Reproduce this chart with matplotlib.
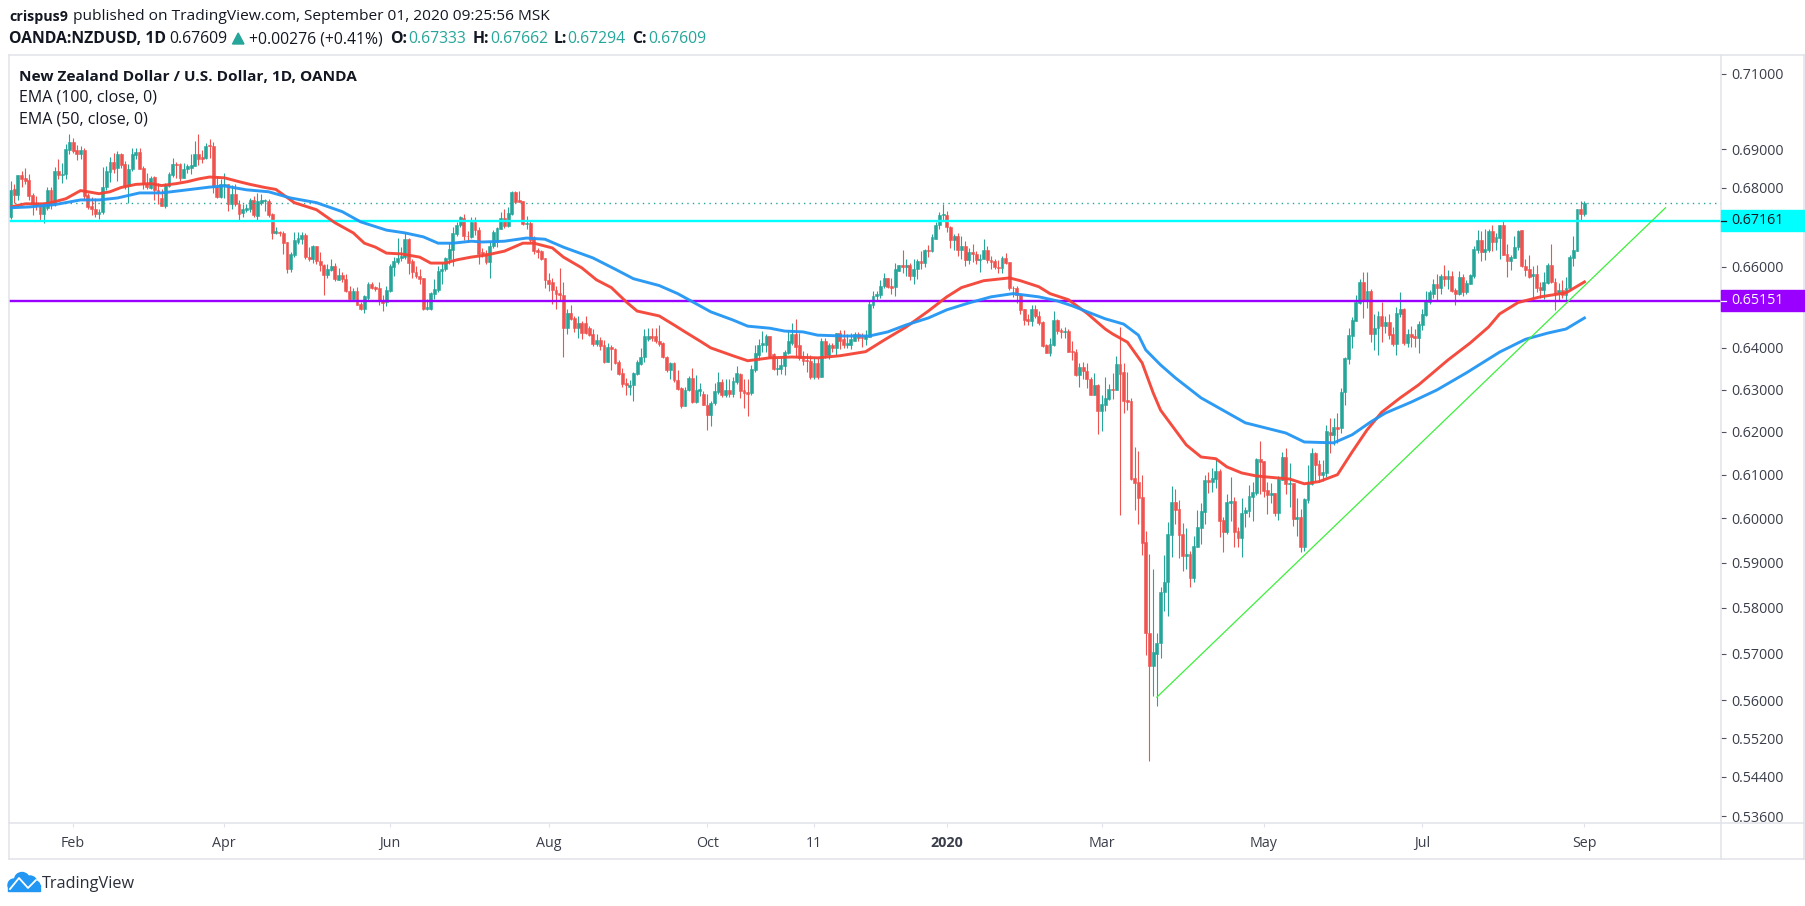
import matplotlib
matplotlib.use("Agg")
import numpy as np
import matplotlib.pyplot as plt
from matplotlib.lines import Line2D
from matplotlib.patches import Rectangle, Circle, Polygon
from matplotlib.ticker import NullLocator, NullFormatter

# OHLC values in 1/10000 of a US dollar, one entry per daily bar
opens = [
6725,6796,6781,6832,6825,6820,6781,6762,6755,6732, 6749,6794,6762,6843,6833,6835,6897,6919,6897,6887,
6897,6781,6753,6747,6734,6738,6801,6842,6866,6852, 6887,6861,6805,6849,6885,6894,6852,6811,6799,6828,
6795,6773,6754,6806,6833,6863,6861,6826,6848,6852, 6857,6887,6881,6878,6911,6909,6801,6776,6807,6809,
6758,6783,6758,6736,6743,6746,6768,6729,6762,6767, 6767,6732,6685,6688,6685,6662,6594,6630,6662,6670,
6680,6625,6620,6651,6614,6605,6579,6592,6601,6568, 6579,6569,6540,6519,6539,6508,6495,6523,6557,6549,
6547,6515,6512,6540,6600,6611,6621,6624,6670,6615, 6586,6578,6571,6495,6495,6531,6542,6588,6594,6620,
6643,6683,6704,6722,6678,6675,6712,6693,6636,6635, 6611,6652,6662,6696,6723,6702,6733,6789,6768,6766,
6707,6711,6671,6641,6639,6621,6568,6561,6543,6535, 6530,6449,6485,6472,6449,6460,6460,6449,6433,6410,
6420,6408,6366,6403,6398,6367,6340,6316,6305,6310, 6338,6362,6377,6421,6430,6428,6418,6413,6379,6346,
6363,6323,6303,6261,6298,6328,6271,6297,6289,6264, 6239,6267,6294,6319,6286,6299,6289,6319,6336,6299,
6294,6291,6346,6383,6406,6408,6428,6386,6349,6349, 6356,6388,6411,6433,6406,6376,6371,6369,6329,6364,
6331,6416,6383,6408,6401,6436,6421,6406,6408,6418, 6433,6426,6421,6426,6506,6526,6530,6553,6573,6553,
6550,6590,6603,6600,6603,6578,6593,6613,6608,6643, 6639,6670,6705,6730,6731,6700,6667,6677,6643,6653,
6616,6638,6633,6616,6618,6641,6617,6613,6600,6597, 6623,6611,6548,6548,6530,6494,6470,6465,6494,6479,
6464,6407,6387,6407,6469,6443,6439,6440,6392,6389, 6334,6354,6345,6326,6288,6311,6250,6263,6277,6302,
6300,6360,6341,6275,6272,6093,6084,6049,5947,5746, 5674,5700,5724,5834,5856,5963,6037,6022,5965,5916,
5920,5865,5936,5979,6015,6088,6084,6091,6109,5997, 5970,6035,6040,5972,5956,6011,6017,6049,6058,6137,
6132,6065,6054,6058,6013,6088,6142,6079,6081,5999, 6004,5936,6042,6079,6151,6125,6100,6105,6200,6193,
6212,6209,6295,6374,6429,6465,6510,6561,6516,6539, 6433,6448,6479,6453,6462,6433,6409,6482,6495,6411,
6433,6429,6423,6457,6480,6512,6533,6556,6547,6577, 6570,6577,6542,6532,6574,6536,6556,6577,6643,6666,
6636,6643,6689,6661,6672,6704,6632,6613,6623,6649, 6692,6602,6595,6577,6581,6549,6542,6559,6605,6561,
6534,6542,6529,6546,6623,6640,6747,6733]
highs = [
6818,6809,6832,6844,6852,6835,6788,6779,6762,6758, 6802,6801,6854,6874,6865,6915,6940,6930,6911,6908,
6904,6788,6777,6775,6747,6855,6857,6880,6891,6895, 6891,6869,6861,6904,6904,6904,6857,6839,6831,6831,
6813,6796,6813,6842,6878,6867,6865,6865,6863,6887, 6921,6941,6899,6917,6928,6919,6831,6822,6839,6811,
6807,6809,6770,6758,6758,6775,6779,6786,6784,6772, 6771,6736,6701,6691,6691,6663,6636,6688,6687,6688,
6685,6649,6655,6652,6636,6607,6607,6620,6610,6596, 6586,6582,6551,6548,6550,6512,6529,6561,6563,6552,
6561,6529,6552,6607,6624,6672,6649,6687,6672,6618, 6601,6594,6573,6519,6536,6569,6601,6610,6624,6662,
6699,6712,6727,6733,6691,6725,6725,6700,6646,6642, 6664,6692,6700,6739,6746,6750,6792,6793,6792,6766,
6728,6714,6677,6647,6642,6621,6583,6571,6552,6596, 6562,6495,6505,6479,6479,6466,6477,6454,6445,6433,
6427,6419,6412,6408,6399,6371,6351,6327,6322,6343, 6371,6399,6445,6449,6449,6449,6455,6414,6381,6366,
6365,6346,6306,6307,6333,6351,6335,6315,6296,6289, 6272,6316,6341,6326,6326,6326,6329,6356,6339,6324,
6324,6359,6406,6421,6441,6433,6428,6388,6376,6378, 6396,6441,6461,6471,6436,6393,6388,6383,6376,6376,
6423,6423,6413,6413,6436,6443,6443,6433,6436,6438, 6438,6436,6443,6518,6540,6540,6568,6583,6573,6573,
6610,6605,6643,6618,6608,6620,6618,6640,6645,6655, 6681,6713,6739,6759,6741,6702,6683,6685,6677,6664,
6648,6656,6639,6631,6669,6652,6627,6618,6617,6627, 6635,6611,6553,6553,6533,6495,6482,6506,6506,6490,
6465,6409,6425,6491,6471,6449,6452,6445,6417,6397, 6364,6365,6364,6329,6339,6313,6287,6329,6313,6339,
6380,6451,6364,6341,6280,6165,6156,6100,5972,5920, 5887,5744,5845,5918,5992,6074,6068,6042,5990,5979,
5927,5960,6019,6035,6100,6107,6116,6137,6112,6004, 6056,6095,6049,5981,6047,6026,6077,6084,6139,6179,
6132,6084,6081,6058,6098,6153,6163,6128,6081,6047, 6022,6047,6123,6163,6153,6135,6135,6217,6233,6233,
6244,6304,6378,6448,6475,6529,6570,6586,6586,6544, 6482,6490,6512,6478,6483,6452,6499,6536,6498,6447,
6453,6447,6465,6494,6539,6542,6570,6582,6581,6605, 6592,6590,6546,6588,6581,6567,6581,6651,6693,6691,
6696,6696,6704,6685,6706,6719,6656,6630,6677,6693, 6693,6620,6630,6602,6603,6563,6586,6609,6656,6571,
6559,6567,6574,6629,6678,6747,6767,6766]
lows = [
6721,6762,6770,6801,6809,6768,6730,6742,6715,6709, 6744,6747,6753,6822,6813,6822,6887,6891,6871,6874,
6770,6745,6730,6725,6721,6732,6794,6816,6839,6818, 6852,6796,6762,6844,6874,6848,6798,6796,6796,6770,
6758,6753,6749,6801,6828,6826,6818,6825,6839,6835, 6857,6859,6865,6876,6878,6788,6775,6773,6775,6740,
6745,6753,6719,6725,6739,6737,6725,6716,6756,6741, 6725,6670,6683,6678,6632,6584,6586,6624,6657,6657,
6620,6613,6610,6607,6590,6529,6571,6588,6565,6566, 6562,6536,6515,6515,6504,6492,6484,6515,6544,6540,
6506,6489,6502,6536,6576,6607,6615,6618,6582,6571, 6573,6557,6492,6492,6492,6519,6536,6557,6588,6607,
6601,6678,6699,6666,6662,6672,6679,6606,6625,6606, 6573,6647,6650,6694,6698,6700,6731,6761,6763,6704,
6694,6662,6632,6621,6616,6548,6539,6508,6494,6515, 6379,6435,6468,6439,6423,6422,6434,6429,6405,6405,
6395,6363,6366,6346,6362,6335,6307,6286,6288,6272, 6335,6359,6366,6417,6417,6412,6404,6375,6341,6325,
6319,6299,6257,6260,6296,6268,6269,6284,6262,6204, 6214,6264,6289,6281,6281,6281,6281,6314,6279,6257,
6237,6286,6341,6371,6391,6391,6376,6346,6334,6336, 6334,6386,6408,6378,6371,6359,6341,6324,6326,6326,
6329,6376,6373,6391,6383,6398,6401,6401,6398,6416, 6416,6403,6408,6426,6498,6516,6523,6548,6548,6533,
6526,6588,6585,6578,6568,6558,6570,6593,6600,6625, 6637,6669,6696,6719,6687,6646,6643,6627,6620,6602,
6606,6612,6606,6587,6618,6610,6593,6595,6583,6585, 6606,6543,6525,6510,6482,6455,6455,6454,6473,6455,
6402,6387,6381,6405,6434,6425,6425,6389,6372,6332, 6307,6325,6304,6287,6286,6194,6201,6250,6275,6277,
6298,6008,6245,6252,6088,6019,5988,5918,5698,5473, 5610,5588,5690,5792,5781,5913,5986,5911,5882,5885,
5847,5856,5936,5943,5988,6058,6060,6070,5958,5925, 5965,5995,5936,5936,5913,5981,6004,5995,6054,6056,
6049,6010,6035,6006,5997,6088,6056,6026,5983,5961, 5925,5927,6035,6077,6084,6084,6086,6095,6151,6170,
6174,6198,6264,6362,6399,6465,6508,6472,6498,6414, 6396,6384,6414,6437,6422,6405,6384,6475,6407,6402,
6402,6402,6387,6443,6477,6507,6521,6518,6533,6552, 6544,6538,6504,6529,6527,6533,6556,6571,6634,6615,
6616,6637,6639,6643,6620,6630,6575,6592,6622,6643, 6598,6578,6571,6522,6538,6521,6519,6556,6559,6492,
6516,6521,6516,6543,6601,6639,6719,6729]
closes = [
6794,6782,6832,6823,6818,6779,6758,6756,6732,6755, 6794,6759,6843,6832,6837,6900,6919,6895,6887,6897,
6779,6751,6745,6734,6739,6801,6843,6866,6850,6887, 6859,6804,6850,6887,6893,6850,6809,6801,6826,6795,
6789,6754,6807,6835,6863,6859,6826,6850,6857,6859, 6887,6876,6875,6910,6908,6801,6777,6809,6809,6758,
6783,6758,6734,6746,6748,6768,6730,6765,6768,6768, 6730,6685,6690,6684,6660,6594,6632,6666,6672,6680,
6624,6620,6651,6613,6603,6579,6594,6601,6569,6579, 6569,6540,6519,6539,6506,6495,6526,6557,6548,6544,
6515,6510,6541,6601,6614,6621,6626,6670,6610,6586, 6576,6569,6495,6499,6534,6544,6590,6594,6621,6645,
6685,6706,6725,6678,6676,6712,6692,6633,6632,6611, 6652,6687,6697,6723,6702,6736,6789,6764,6764,6707,
6711,6667,6639,6637,6619,6566,6558,6541,6533,6529, 6449,6485,6470,6449,6460,6437,6437,6431,6410,6420,
6405,6366,6403,6397,6363,6338,6314,6311,6311,6340, 6365,6377,6430,6430,6424,6417,6410,6379,6346,6363,
6322,6302,6261,6298,6328,6271,6299,6301,6264,6239, 6269,6296,6319,6286,6299,6289,6321,6339,6296,6291,
6289,6349,6388,6408,6411,6428,6378,6349,6351,6359, 6391,6418,6433,6403,6376,6369,6369,6329,6364,6331,
6416,6383,6408,6401,6436,6418,6406,6411,6421,6433, 6423,6423,6428,6508,6528,6533,6553,6573,6550,6548,
6593,6603,6598,6603,6578,6595,6613,6610,6643,6640, 6674,6706,6731,6733,6700,6667,6677,6643,6653,6616,
6638,6632,6617,6620,6641,6617,6612,6598,6597,6623, 6608,6546,6546,6529,6492,6468,6465,6494,6478,6461,
6405,6387,6409,6469,6441,6439,6440,6390,6389,6334, 6354,6345,6324,6288,6311,6250,6266,6280,6302,6300,
6360,6338,6273,6271,6091,6081,6047,5945,5746,5674, 5703,5724,5834,5856,5965,6037,6019,5963,5916,5920,
5865,5938,5981,6017,6088,6084,6093,6109,5995,5970, 6037,6040,5970,5956,6013,6019,6051,6060,6137,6130,
6063,6054,6058,6013,6091,6142,6079,6081,5999,6004, 5936,6044,6081,6151,6123,6100,6107,6202,6193,6212,
6207,6294,6376,6431,6468,6512,6561,6516,6539,6435, 6449,6479,6453,6462,6431,6409,6484,6495,6411,6433,
6426,6423,6459,6482,6514,6536,6556,6547,6577,6570, 6577,6539,6532,6574,6536,6559,6580,6645,6666,6636,
6645,6689,6661,6674,6704,6630,6613,6625,6650,6691, 6601,6592,6575,6581,6548,6542,6561,6605,6561,6533,
6541,6529,6548,6625,6643,6747,6734,6761]

# EMA curves: bar number, value in 1/10000 USD
ema50_bars = [1,5,10,12,16,20,22,25,28,31,35,39,42,46,49,52,55,59,63,66,70,73,78,84,89,94,97,100,103,107,112,115,119,122,126,
130,135,140,143,148,151,156,160,164,168,171,177,181,184,188,191,197,201,207,213,220,226,233,238,244,250,255,259,265,272,275,
280,283,288,293,298,300,304,308,311,313,317,320,324,328,331,335,339,344,348,352,356,361,365,369,373,378,383,391,397,402,405,410,416,423,428]
ema50_vals = [6751,6759,6759,6762,6772,6793,6790,6785,6790,6801,6809,6811,6806,6811,6816,6823,6828,6826,6816,6809,6801,6796,6762,6744,6711,6685,6659,6649,6634,6632,6624,6609,6609,6617,6624,
6629,6639,6659,6659,6647,6624,6597,6567,6548,6513,6490,6478,6456,6439,6417,6400,6381,6369,6376,6378,6376,6381,6391,6419,6451,6490,6525,6548,6565,6572,6565,
6550,6533,6518,6485,6446,6434,6414,6364,6292,6251,6204,6169,6141,6137,6118,6104,6097,6093,6090,6079,6084,6100,6153,6204,6246,6280,6311,6371,6412,6451,6483,6511,6525,6535,6562]
ema100_bars = [1,6,13,20,25,30,36,42,49,55,59,65,71,77,84,91,96,103,108,113,117,121,126,129,135,141,146,151,159,165,170,177,182,188,191,197,201,207,211,216,220,227,234,239,244,250,
255,261,267,273,280,285,289,294,298,303,307,309,313,317,324,336,347,352,360,365,370,374,381,388,396,405,412,418,423,428]
ema100_vals = [6749,6751,6757,6769,6769,6774,6787,6787,6795,6802,6805,6795,6790,6774,6762,6739,6713,6692,6685,6675,6659,6659,6664,6662,6664,6672,6669,6649,6622,6594,6570,6553,6533,6503,6488,6468,6453,6448,6441,6439,6431,6429,6429,6439,6456,6473,
6493,6510,6525,6533,6525,6515,6503,6485,6471,6458,6431,6395,6359,6328,6280,6221,6197,6176,6174,6193,6223,6244,6270,6299,6340,6390,6421,6436,6446,6473]

# Drawn levels and trend line
level_cyan = 0.67161
level_purple = 0.65151
last_close = 0.67609
trend_bars = [312, 450]
trend_vals = [0.5607, 0.6749]

y_ticks = [0.71,0.69,0.68,0.67,0.66,0.65,0.64,0.63,0.62,0.61,0.60,0.59,0.58,0.57,0.56,0.552,0.544,0.536]
x_tick_bars = [18,59,104,147,190,219,255,297,341,384,428]
x_tick_labels = ['Feb','Apr','Jun','Aug','Oct','11','2020','Mar','May','Jul','Sep']

W, H = 1805, 906
GREEN, RED = '#26a69a', '#ef5350'
TXT, GRID = '#131722', '#e0e3eb'
FONT = 'Open Sans'
plt.rcParams['font.family'] = [FONT, 'DejaVu Sans']

fig = plt.figure(figsize=(W/100, H/100), dpi=100, facecolor='white')
L, R, T, B = 9, 1721, 55, 823
ax = fig.add_axes([L/W, 1-B/H, (R-L)/W, (B-T)/H])

o, h, l, c = [np.array(a)/10000 for a in (opens, highs, lows, closes)]
assert len(o) == len(h) == len(l) == len(c), (len(o), len(h), len(l), len(c))
bars = np.arange(1, len(o)+1)
cols = np.where(c >= o, GREEN, RED)

ax.set_yscale('log')
ax.vlines(bars, l, h, colors=cols, linewidth=0.8, zorder=2)
ax.bar(bars, np.abs(c-o), bottom=np.minimum(o, c), width=0.78, color=cols,
       edgecolor=cols, linewidth=0.4, zorder=2.1)
ax.axhline(last_close, color=GREEN, lw=1, ls=(0, (1, 3)), zorder=2.2)
ax.axhline(level_cyan, color='#00ffff', lw=1.7, zorder=3)
ax.axhline(level_purple, color='#9900ff', lw=1.7, zorder=3)
ax.plot(ema50_bars, np.array(ema50_vals)/10000, color='#f44336', lw=2.1, alpha=0.95,
        solid_joinstyle='round', zorder=4)
ax.plot(ema100_bars, np.array(ema100_vals)/10000, color='#2196f3', lw=2.1, alpha=0.95,
        solid_joinstyle='round', zorder=4)
ax.plot(trend_bars, trend_vals, color='#3cf03c', lw=0.9, zorder=5)

ax.set_xlim(0.593, 465.05)
ax.set_ylim(0.5346, 0.7151)
for s in ax.spines.values():
    s.set_visible(False)
ax.yaxis.set_minor_locator(NullLocator())
ax.yaxis.set_minor_formatter(NullFormatter())
ax.set_yticks(y_ticks)
ax.set_yticklabels(['%.5f' % v for v in y_ticks])
ax.tick_params(axis='y', left=False, labelleft=False, right=True, labelright=True,
               length=3.6, width=0.8, color='#50535e', labelcolor='#3a3e4a', labelsize=10.3, pad=4)
ax.set_xticks(x_tick_bars)
ax.set_xticklabels(x_tick_labels)
ax.tick_params(axis='x', length=3, width=0.8, color=GRID, labelcolor='#3a3e4a', labelsize=10.3, pad=6.5)
for lab in ax.get_xticklabels():
    if lab.get_text() == '2020':
        lab.set_fontweight('bold')

# Page overlay in picture pixels
ov = fig.add_axes([0, 0, 1, 1], zorder=10)
ov.set_xlim(0, W)
ov.set_ylim(H, 0)
ov.axis('off')
ov.patch.set_alpha(0)
for x0, y0, x1, y1 in [(9,55,1805,55),(9,55,9,859),(9,859,1805,859),(9,823,1804,823),(1721,55,1721,859),(1804,55,1804,859)]:
    ov.add_line(Line2D([x0,x1],[y0,y1], color=GRID, lw=1.1))

def txt(x, y, s, size=11.3, weight='normal', color=TXT, ha='left'):
    ov.text(x, y, s, fontsize=size, fontweight=weight, color=color, ha=ha, va='center')

txt(9, 17, 'crispus9', weight='bold', size=10.3)
txt(73, 17, 'published on TradingView.com, September 01, 2020 09:25:56 MSK', size=11.15)
txt(9, 39, 'OANDA:NZDUSD, 1D', weight='bold')
txt(169, 39, '0.67609')
ov.add_patch(Polygon([[232.5,44],[244,44],[238.2,33]], color=GREEN))
txt(249, 39, '+0.00276 (+0.41%)')
for x, s in [(390,'O:'),(473,'H:'),(553.5,'L:'),(632,'C:')]:
    txt(x, 39, s, weight='bold')
for x, s in [(408,'0.67333'),(490,'0.67662'),(567,'0.67294'),(648,'0.67609')]:
    txt(x, 39, s, color=GREEN)
txt(19, 77, 'New Zealand Dollar / U.S. Dollar, 1D, OANDA', weight='bold', size=11.1)
txt(19, 98, 'EMA (100, close, 0)', size=11.5)
txt(19, 119, 'EMA (50, close, 0)', size=11.5)

# Last value labels on the price scale
ov.add_patch(Rectangle((1721,210), 83.5, 21, color='#00ffff', zorder=3))
ov.add_patch(Rectangle((1721,290), 83.5, 21, color='#9900ff', zorder=3))
ov.add_line(Line2D([1721,1726],[220.5,220.5], color=TXT, lw=0.9, zorder=4))
ov.add_line(Line2D([1721,1726],[300.5,300.5], color='white', lw=0.9, zorder=4))
ov.text(1731.5, 220.5, '0.67161', fontsize=10.3, color=TXT, va='center', zorder=5)
ov.text(1731.5, 300.5, '0.65151', fontsize=10.3, color='white', va='center', zorder=5)

# TradingView mark
for cx, cy, r in [(14,885,6),(22,880,7.5),(30,883,7),(35,886,5)]:
    ov.add_patch(Circle((cx,cy), r, color='#2196f3', zorder=3))
ov.add_patch(Rectangle((8,885), 32, 6, color='#2196f3', zorder=3))
ov.add_line(Line2D([10,19,28,36],[889,878,888,880], color='white', lw=1.3, zorder=4))
txt(42, 884, 'TradingView', size=11.7, color='#2a2e39')

fig.savefig('out.png', dpi=100, facecolor='white')
